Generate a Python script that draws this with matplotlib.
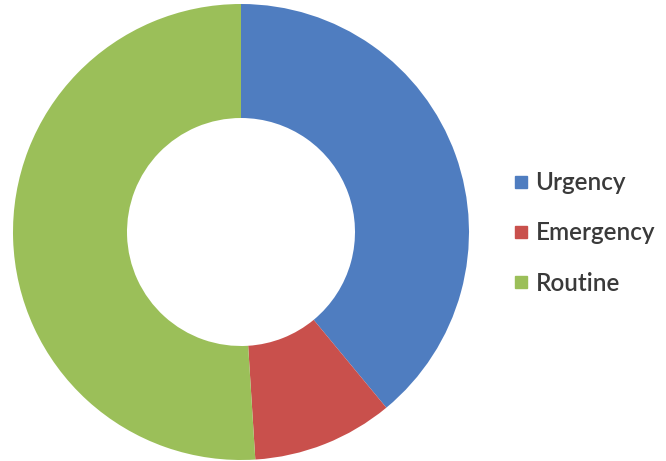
import matplotlib
matplotlib.use("Agg")
import matplotlib.pyplot as plt
from matplotlib.lines import Line2D

labels = ["Urgency", "Emergency", "Routine"]
values = [39, 10, 51]
colors = ["#4F7DC0", "#C9504C", "#9BBF59"]

fig = plt.figure(figsize=(6.66, 4.61), dpi=100)
ax = fig.add_axes([13/666, (461-232-228)/461, 456/666, 456/461])
ax.pie(values, colors=colors, startangle=90, counterclock=False,
       radius=1.0, wedgeprops=dict(width=0.5, edgecolor="none"))
ax.set_xlim(-1, 1)
ax.set_ylim(-1, 1)
ax.set_aspect("equal")
ax.axis("off")

handles = [Line2D([0], [0], marker="s", linestyle="none", markersize=8.5,
                  markerfacecolor=c, markeredgecolor=c) for c in colors]
leg = fig.legend(handles, labels, loc="center left",
                 bbox_to_anchor=(505/666, 1 - 233/461), frameon=False,
                 prop=dict(family="Lato", size=17.5, weight="semibold"),
                 labelspacing=1.12, handlelength=0.55, handletextpad=0.3,
                 borderaxespad=0)
for t in leg.get_texts():
    t.set_color("#3a3a3a")

fig.savefig("out.png", dpi=100)
